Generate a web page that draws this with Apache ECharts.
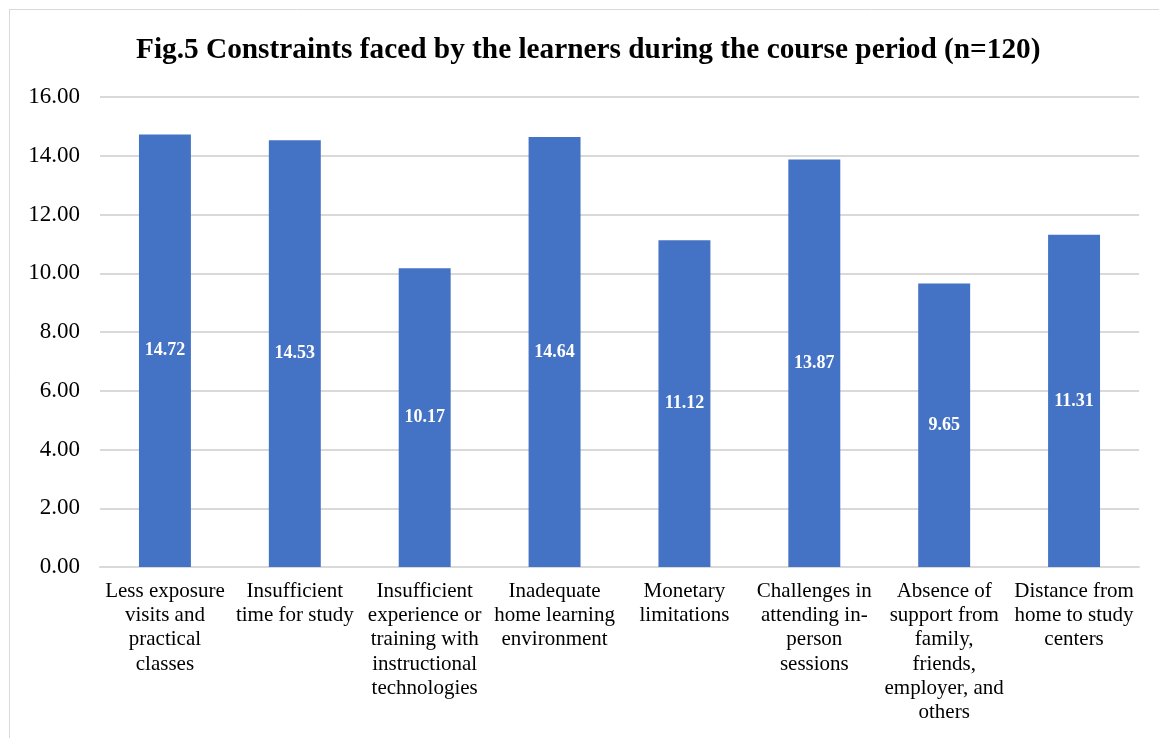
<!DOCTYPE html>
<html>
<head>
<meta charset="utf-8">
<script src="https://cdn.jsdelivr.net/npm/echarts@6/dist/echarts.min.js"></script>
<style>html,body{margin:0;padding:0;background:#fff;}#c{width:1159px;height:738px;}</style>
</head>
<body>
<div id="c"></div>
<script>
const categories = [
  "Less exposure\nvisits and\npractical\nclasses",
  "Insufficient\ntime for study",
  "Insufficient\nexperience or\ntraining with\ninstructional\ntechnologies",
  "Inadequate\nhome learning\nenvironment",
  "Monetary\nlimitations",
  "Challenges in\nattending in-\nperson\nsessions",
  "Absence of\nsupport from\nfamily,\nfriends,\nemployer, and\nothers",
  "Distance from\nhome to study\ncenters"
];
const values = [14.72, 14.53, 10.17, 14.64, 11.12, 13.87, 9.65, 11.31];
const yTicks = { min: 0, max: 16, interval: 2 };

const font = 'Liberation Serif';
const chart = echarts.init(document.getElementById('c'));
chart.setOption({
  animation: false,
  backgroundColor: '#fff',
  textStyle: { fontFamily: font },
  title: {
    text: 'Fig.5 Constraints faced by the learners during the course period (n=120)',
    left: 131,
    top: 31,
    textStyle: { fontFamily: font, fontSize: 29.3, fontWeight: 'bold', color: '#000' }
  },
  grid: { left: 100, right: 20, top: 97, bottom: 171, containLabel: false },
  xAxis: {
    type: 'category',
    data: categories,
    axisLine: { show: true, lineStyle: { color: '#d9d9d9', width: 2 } },
    axisTick: { show: false },
    axisLabel: {
      interval: 0, margin: 12,
      fontFamily: font, fontSize: 21, color: '#000', lineHeight: 24.3, align: 'center'
    }
  },
  yAxis: {
    type: 'value',
    min: yTicks.min, max: yTicks.max, interval: yTicks.interval,
    axisLine: { show: false },
    axisTick: { show: false },
    splitLine: { lineStyle: { color: '#d9d9d9', width: 2 } },
    axisLabel: {
      margin: 20, fontFamily: font, fontSize: 23, color: '#000',
      formatter: v => v.toFixed(2)
    }
  },
  series: [{
    type: 'bar',
    data: values,
    barWidth: '40%',
    itemStyle: { color: '#4472C4' },
    label: {
      show: true, position: 'inside',
      fontFamily: font, fontSize: 18, fontWeight: 'bold', color: '#fff',
      formatter: p => p.value.toFixed(2)
    }
  }],
  graphic: [
    { type: 'line', shape: { x1: 9, y1: 9.5, x2: 1159, y2: 9.5 }, style: { stroke: '#d9d9d9', lineWidth: 1 } },
    { type: 'line', shape: { x1: 9.5, y1: 9, x2: 9.5, y2: 738 }, style: { stroke: '#d9d9d9', lineWidth: 1 } }
  ]
});
</script>
</body>
</html>
